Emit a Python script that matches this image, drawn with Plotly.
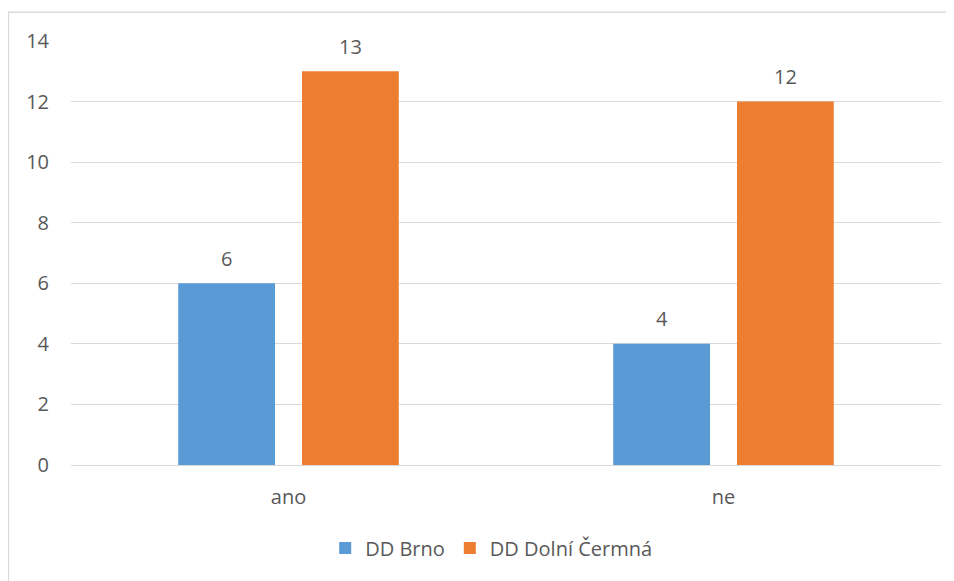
import plotly.graph_objects as go

categories = ["ano", "ne"]
brno = [6, 4]
cermna = [13, 12]
series_names = ["DD Brno", "DD Dolní Čermná"]
colors = ["#5B9BD5", "#ED7D31"]
font = "Open Sans"
text_color = "#595959"
size = 20
bargap = 0.431

fig = go.Figure()
for name, vals, col in zip(series_names, [brno, cermna], colors):
    fig.add_trace(go.Bar(x=categories, y=vals, name=name, marker=dict(color=col, line=dict(width=0))))

# value labels above the bars (placed on the category axis, offset to each bar of the group)
annotations = []
half = (1 - bargap) / 4
for k, vals in enumerate([brno, cermna]):
    for i, v in enumerate(vals):
        annotations.append(dict(x=i + (half if k else -half), y=v, xref="x", yref="y", text=str(v),
                                showarrow=False, yanchor="middle", yshift=25,
                                font=dict(family=font, size=size, color=text_color)))

fig.update_layout(
    width=954, height=581,
    margin=dict(l=63, r=21, t=33, b=124),
    paper_bgcolor="white", plot_bgcolor="white",
    barmode="group", bargap=bargap, bargroupgap=0.218,
    font=dict(family=font, size=size, color=text_color),
    showlegend=True,
    legend=dict(orientation="h", x=0.483, xanchor="center", y=-0.196, yanchor="middle",
                font=dict(size=size, color=text_color), traceorder="normal"),
    xaxis=dict(showgrid=False, showline=True, linecolor="#D9D9D9", linewidth=1,
               ticks="", ticklabelstandoff=14),
    yaxis=dict(range=[0, 14], dtick=2, showgrid=True, gridcolor="#D9D9D9", gridwidth=1,
               zeroline=False, ticks="", ticklabelstandoff=21),
    annotations=annotations,
    # light chart frame, cropped on the right and bottom like the original
    shapes=[dict(type="rect", xref="paper", yref="paper", x0=-0.072, x1=1.2, y0=-0.5, y1=1.068,
                 line=dict(color="#D9D9D9", width=1.5), layer="below")],
)

fig.write_html("out.html")
